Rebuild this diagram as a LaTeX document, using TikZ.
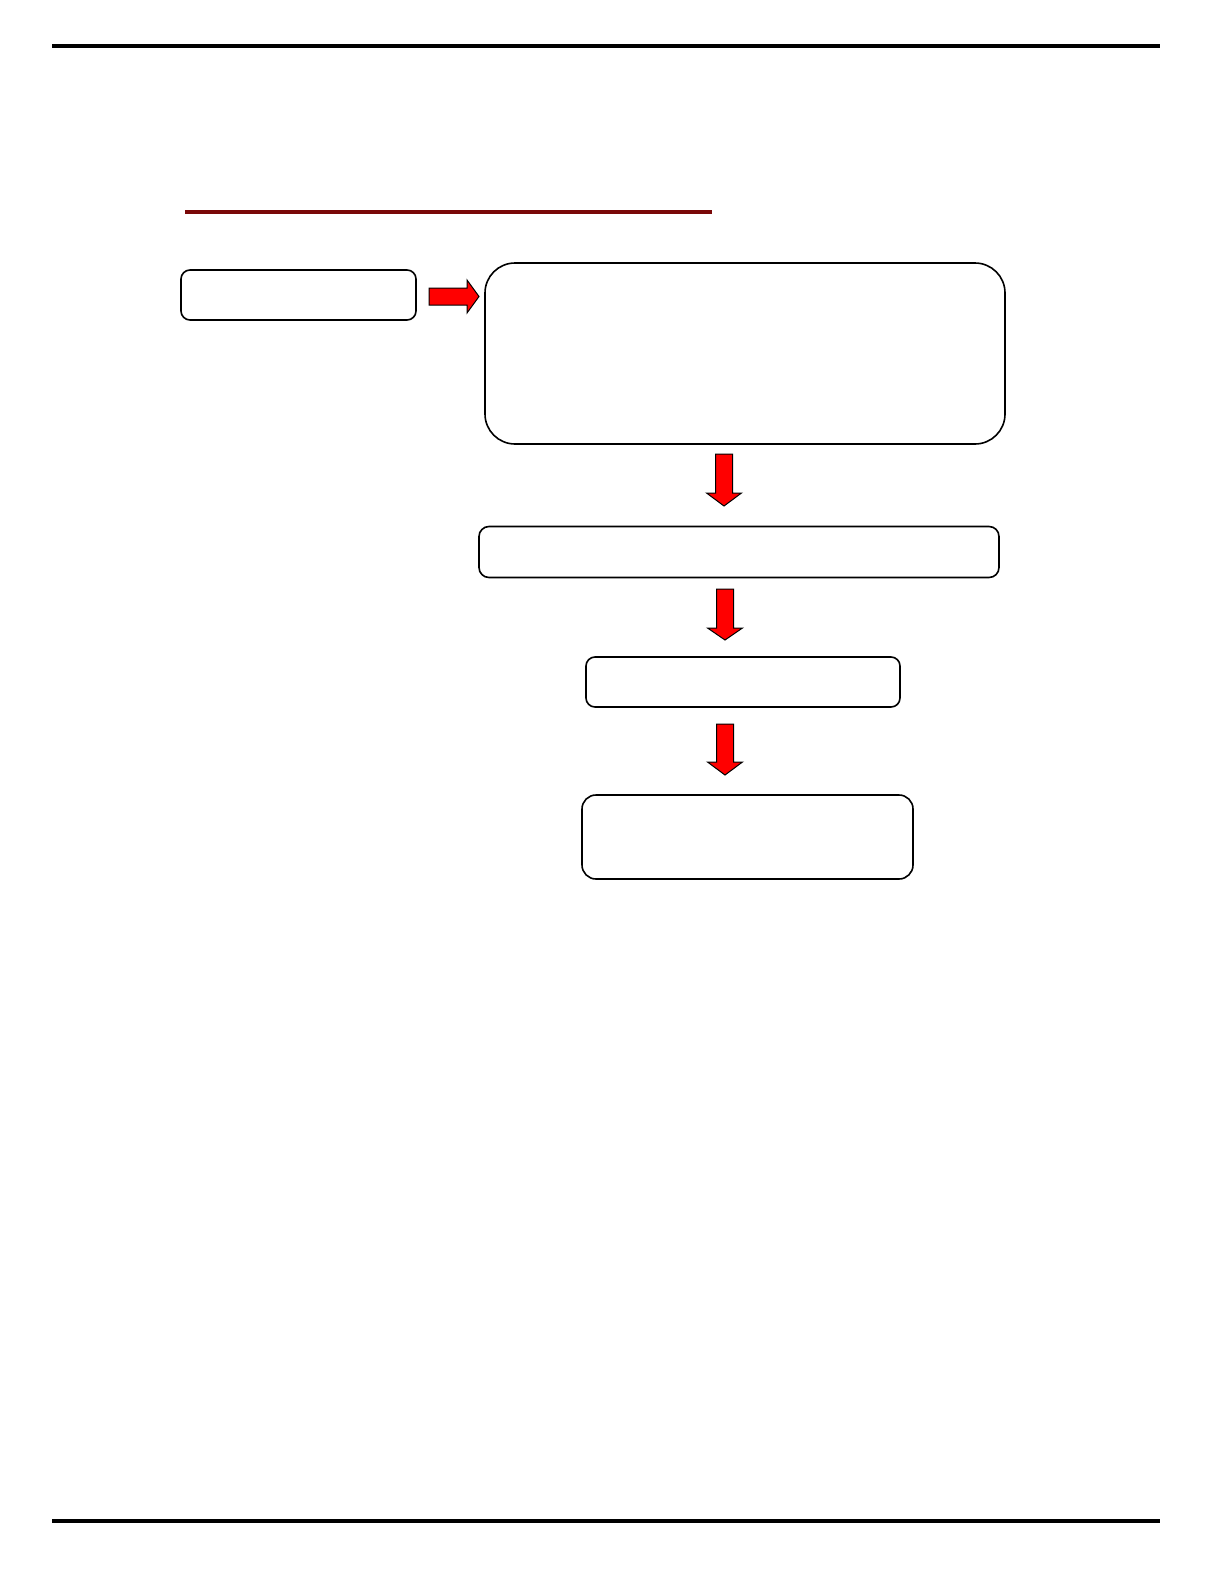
\documentclass[tikz,border=0pt]{standalone}
\usetikzlibrary{calc}
\definecolor{rulered}{RGB}{122,8,8}
\tikzset{
  flowbox/.style={draw=black, line width=1.6pt, fill=white, rectangle, inner sep=0pt},
  blockarrow/.style={fill=red, draw=black, line width=1pt, line join=miter},
  pagerule/.style={line width=4pt, black}
}
\newcommand{\DownBlk}[4]{% x, ytop, ybase, ytip
  \filldraw[blockarrow] (#1-8.5,#2) -- (#1+8.5,#2) -- (#1+8.5,#3) -- (#1+17.5,#3)
    -- (#1,#4) -- (#1-17.5,#3) -- (#1-8.5,#3) -- cycle;}
\begin{document}
\begin{tikzpicture}[x=1pt,y=-1pt]
\useasboundingbox (0,0) rectangle (1224,1584);
% page rules
\coordinate (tl) at (52,46); \coordinate (tr) at (1160,46);
\coordinate (bl) at (52,1521); \coordinate (br) at (1160,1521);
\draw[pagerule] (tl) -- (tr);
\draw[pagerule] (bl) -- (br);
% dark red title rule
\coordinate (rl) at (185,212); \coordinate (rr) at (712,212);
\draw[rulered, line width=3.5pt] (rl) -- (rr);
% boxes
\node[flowbox, rounded corners=9pt, minimum width=235pt, minimum height=50pt] (A) at (298.5,295) {};
\node[flowbox, rounded corners=30pt, minimum width=520pt, minimum height=181pt] (B) at (745,353.5) {};
\node[flowbox, rounded corners=10pt, minimum width=520pt, minimum height=51pt] (C) at (739,552) {};
\node[flowbox, rounded corners=9pt, minimum width=314pt, minimum height=50pt] (D) at (743,682) {};
\node[flowbox, rounded corners=14pt, minimum width=331pt, minimum height=84pt] (E) at (747.5,837) {};
% right block arrow
\filldraw[blockarrow] (429,288) -- (467,288) -- (467,280) -- (479,296.5) -- (467,313) -- (467,305) -- (429,305) -- cycle;
% down block arrows
\DownBlk{724}{454}{493}{506}
\DownBlk{725}{589}{628}{640}
\DownBlk{725}{724}{762}{775}
\end{tikzpicture}
\end{document}
